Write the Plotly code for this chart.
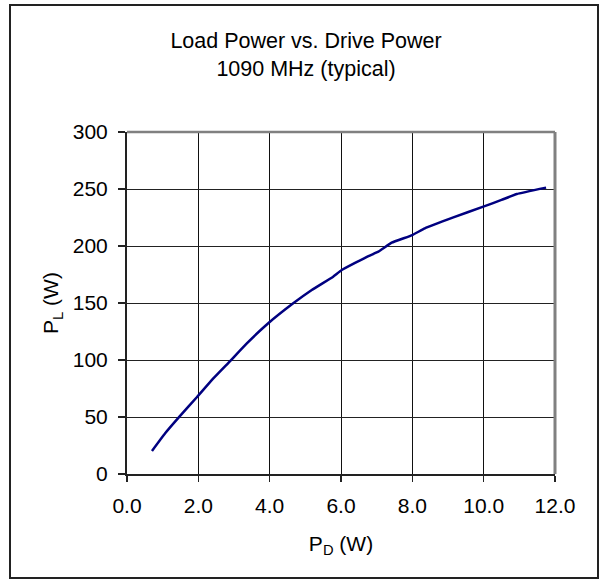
import plotly.graph_objects as go

# Data
drive_power_w = [0.7, 1.07, 1.47, 1.97, 2.42, 2.89, 3.36, 3.96, 4.66, 5.18, 5.78, 6.02,
                 6.77, 7.05, 7.42, 8.0, 8.35, 9.15, 9.99, 10.5, 10.93, 11.75]
load_power_w = [20.2, 35.7, 50.3, 67.8, 83.9, 99.1, 114.6, 132.2, 149.7, 161.4, 173.1, 178.9,
                191.2, 195.0, 202.9, 209.6, 215.5, 225.1, 234.5, 240.4, 245.6, 251.2]

x_ticks = [0, 2, 4, 6, 8, 10, 12]
x_tick_labels = ["0.0", "2.0", "4.0", "6.0", "8.0", "10.0", "12.0"]
y_ticks = [0, 50, 100, 150, 200, 250, 300]

FONT = "Liberation Sans, Arial, sans-serif"

fig = go.Figure()
fig.add_trace(go.Scatter(
    x=drive_power_w, y=load_power_w, mode="lines",
    line=dict(color="#000080", width=2.5, shape="spline", smoothing=0.3),
    showlegend=False, hoverinfo="skip",
))

W, H = 601, 583
L, R, T, B = 127, 46, 132, 109

fig.update_layout(
    width=W, height=H,
    margin=dict(l=L, r=R, t=T, b=B, pad=0),
    paper_bgcolor="white", plot_bgcolor="white",
    font=dict(family=FONT, size=21, color="black"),
    title=dict(
        text="Load Power vs. Drive Power<br>1090 MHz (typical)",
        x=306 / W, xanchor="center", y=1 - 48 / H, yanchor="middle",
        font=dict(family=FONT, size=21.5, color="black"),
    ),
    xaxis=dict(
        range=[0, 12], tickvals=x_ticks, ticktext=x_tick_labels,
        showgrid=True, gridcolor="#111", gridwidth=1,
        showline=True, linecolor="#222", linewidth=2,
        ticks="outside", ticklen=6, tickcolor="#222", tickwidth=1.5,
        zeroline=False, fixedrange=True, ticklabelstandoff=6,
        title=dict(text="P<sub>D</sub> (W)", standoff=20,
                   font=dict(family=FONT, size=21)),
        tickfont=dict(family=FONT, size=21),
    ),
    yaxis=dict(
        range=[0, 300], tickvals=y_ticks,
        showgrid=True, gridcolor="#222", gridwidth=1,
        showline=True, linecolor="#222", linewidth=2,
        ticks="outside", ticklen=7, tickcolor="#222", tickwidth=1.5,
        zeroline=False, fixedrange=True, ticklabelstandoff=6,
        title=dict(text="P<sub>L</sub> (W)", standoff=8,
                   font=dict(family=FONT, size=21)),
        tickfont=dict(family=FONT, size=21),
    ),
)

pw, ph = W - L - R, H - T - B

def px_to_paper_x(px):
    return (px - L) / pw

def px_to_paper_y(py):
    return (H - B - py) / ph

# Gray plot-area border (top and right)
fig.add_shape(type="line", xref="paper", yref="paper", x0=0, x1=1, y0=1, y1=1,
              line=dict(color="#808080", width=2.5))
fig.add_shape(type="line", xref="paper", yref="paper", x0=1, x1=1, y0=0, y1=1,
              line=dict(color="#808080", width=3))

# Outer chart border
fig.add_shape(type="rect", xref="paper", yref="paper",
              x0=px_to_paper_x(10), x1=px_to_paper_x(598),
              y0=px_to_paper_y(578), y1=px_to_paper_y(5),
              line=dict(color="#222", width=2), fillcolor="rgba(0,0,0,0)")

fig.write_html(
    "out.html",
    config={"displayModeBar": False, "staticPlot": True},
    post_script="document.body.style.margin='0';document.body.style.overflow='hidden';",
)
